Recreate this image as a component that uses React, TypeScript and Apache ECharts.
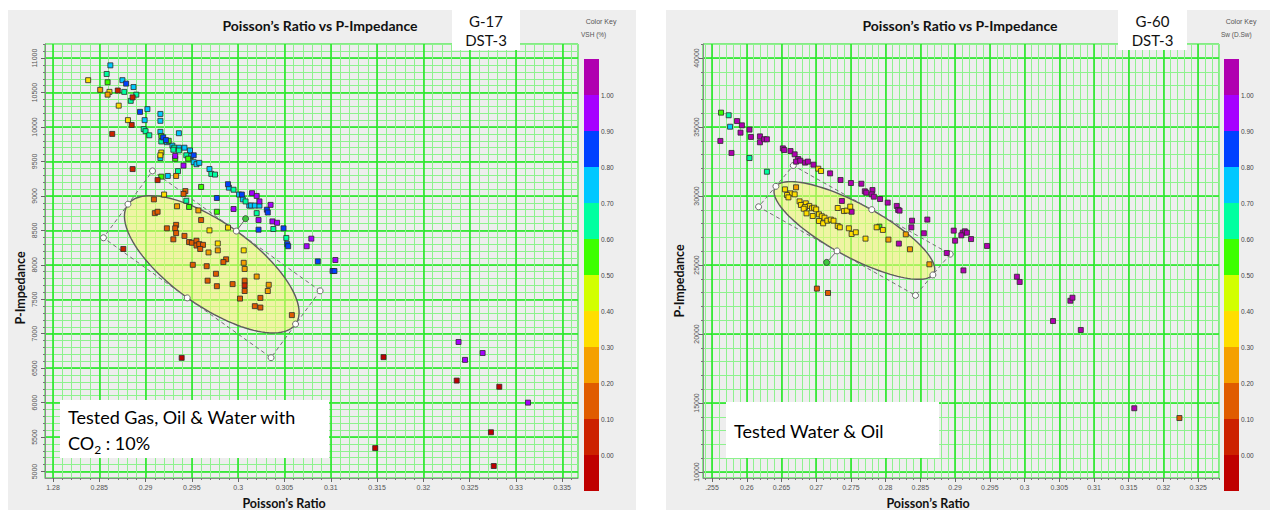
import React, { useEffect, useRef } from 'react';
import * as echarts from 'echarts';

// ---------------- Color key ----------------
const KEY_COLORS = ['#b000b0', '#a600ff', '#0040ff', '#00c8ff', '#00ffa0', '#3cff00', '#d2ff00', '#ffde00', '#f5a000', '#e05c00', '#cc2200', '#bf0000'];
const KEY_LABELS = ['1.00', '0.90', '0.80', '0.70', '0.60', '0.50', '0.40', '0.30', '0.20', '0.10', '0.00'];
const KEY_BOUNDS = [1.0, 0.9, 0.8, 0.7, 0.6, 0.5, 0.4, 0.3, 0.2, 0.1, 0.0];

// colour-class values read from the key (bin middles)
const V_MAGENTA = 1.05, V_VIOLET = 0.95, V_BLUE = 0.85, V_SKY = 0.75, V_AQUA = 0.65, V_GREEN = 0.55;
const V_YELLOW = 0.35, V_ORANGE = 0.25, V_DORANGE = 0.15, V_RED = 0.05, V_DRED = -0.05;

// ---------------- Left chart: G-17 DST-3 (VSH) ----------------
const LEFT_X_RANGE = [0.27914, 0.3367];
const LEFT_Y_RANGE = [4906, 11205];
const LEFT_X_TICKS = [0.28, 0.285, 0.29, 0.295, 0.3, 0.305, 0.31, 0.315, 0.32, 0.325, 0.33, 0.335];
const LEFT_X_LABELS = ['1.28', '0.285', '0.29', '0.295', '0.3', '0.305', '0.31', '0.315', '0.32', '0.325', '0.33', '0.335'];
const LEFT_Y_TICKS = [5000, 5500, 6000, 6500, 7000, 7500, 8000, 8500, 9000, 9500, 10000, 10500, 11000];
const LEFT_Y_LABELS = ['5000', '5500', '6000', '6500', '7000', '7500', '8000', '8500', '9000', '9500', '10000', '10500', '11000'];

const LEFT_SKY = [[0.2862, 10895], [0.2875, 10680], [0.2887, 10580], [0.2902, 10260], [0.2916, 10190], [0.2899, 10100], [0.2916, 10090], [0.2916, 9930], [0.2936, 9910], [0.2923, 9780], [0.2929, 9730], [0.2936, 9700], [0.2942, 9700], [0.2948, 9660], [0.2949, 9580], [0.2916, 9550], [0.2952, 9490], [0.2955, 9460], [0.2958, 9480], [0.2969, 9390], [0.2924, 9290], [0.2990, 9120], [0.3001, 9020], [0.3005, 8950], [0.3012, 8860], [0.3014, 8860], [0.3018, 8860], [0.3023, 8860]];
const LEFT_AQUA = [[0.2858, 10770], [0.2877, 10510], [0.2890, 10470], [0.2884, 10380], [0.2898, 9970], [0.2900, 9940], [0.2904, 9880], [0.2917, 9790], [0.2931, 9700], [0.2930, 9670], [0.2936, 9660], [0.2944, 9590], [0.2935, 9360], [0.2971, 9320], [0.2975, 9310], [0.2995, 9090], [0.3008, 8920], [0.2944, 8930], [0.3020, 8750], [0.3038, 8520], [0.3052, 8390]];
const LEFT_GREEN = [[0.2859, 10650], [0.2917, 9870], [0.2925, 9800], [0.2932, 9540], [0.2946, 9540], [0.2917, 9280], [0.2960, 9130], [0.2947, 8840], [0.2977, 8770]];
const LEFT_BLUE = [[0.2879, 10630], [0.2894, 10220], [0.2919, 9850], [0.2922, 9810], [0.2952, 9590], [0.2989, 9170], [0.2977, 8970], [0.3004, 9020], [0.3031, 8800], [0.3032, 8760], [0.3049, 8530], [0.3022, 8510], [0.3053, 8300], [0.3054, 8270], [0.3086, 8050], [0.3102, 7910], [0.3104, 7910]];
const LEFT_VIOLET = [[0.2932, 9580], [0.2941, 9440], [0.3015, 9040], [0.3020, 9000], [0.3023, 8920], [0.3035, 8870], [0.2995, 8810], [0.3022, 8650], [0.3037, 8630], [0.3042, 8610], [0.3079, 8380], [0.3074, 8270], [0.3105, 8070], [0.3238, 6880], [0.3264, 6720], [0.3245, 6620], [0.3313, 6000]];
const LEFT_YELLOW = [[0.2838, 10680], [0.2861, 10510], [0.2871, 10310], [0.2881, 10100], [0.2917, 9630], [0.2916, 9590], [0.2920, 9020], [0.2969, 8500], [0.2989, 8540], [0.2978, 8310], [0.3006, 8210]];
const LEFT_ORANGE = [[0.2851, 10540], [0.2859, 10470], [0.2933, 9290], [0.2934, 8850], [0.2957, 8790], [0.2978, 8210], [0.2968, 8180], [0.3006, 8030], [0.3007, 7940], [0.3020, 7830], [0.3033, 7710], [0.3032, 7620]];
const LEFT_DORANGE = [[0.2943, 9070], [0.2941, 9030], [0.2909, 8950], [0.2910, 8750], [0.2913, 8770], [0.2960, 8650], [0.2923, 8530], [0.2933, 8580], [0.2932, 8530], [0.2933, 8460], [0.2942, 8420], [0.2930, 8370], [0.2947, 8330], [0.2950, 8320], [0.2955, 8350], [0.2955, 8280], [0.2958, 8300], [0.2962, 8290], [0.2959, 8230], [0.2987, 8080], [0.2984, 8040], [0.2951, 8000], [0.2966, 7980], [0.2976, 7870], [0.2967, 7770], [0.2994, 7720], [0.3007, 7770], [0.3007, 7620], [0.2977, 7690], [0.3002, 7510], [0.3024, 7520], [0.3018, 7400], [0.3024, 7380], [0.3058, 7270]];
const LEFT_RED = [[0.2870, 10530], [0.2886, 10430], [0.2885, 10030], [0.2864, 9900], [0.2886, 9390], [0.2913, 9230], [0.2876, 8230], [0.3007, 7700]];
const LEFT_DRED = [[0.2939, 6650], [0.3157, 6660], [0.3236, 6320], [0.3282, 6230], [0.3273, 5570], [0.3148, 5340], [0.3276, 5080]];

const LEFT_ELLIPSE_MAJOR = [[0.2881, 8880], [0.3062, 7140]];
const LEFT_ELLIPSE_MINOR = [[0.2998, 8490], [0.2945, 7520]];
const LEFT_ELLIPSE_HANDLE = [0.3008, 8670];

// ---------------- Right chart: G-60 DST-3 (Sw) ----------------
const RIGHT_X_RANGE = [0.2537, 0.3280];
const RIGHT_Y_RANGE = [9565, 41014];
const RIGHT_X_TICKS = [0.255, 0.26, 0.265, 0.27, 0.275, 0.28, 0.285, 0.29, 0.295, 0.3, 0.305, 0.31, 0.315, 0.32, 0.325];
const RIGHT_X_LABELS = ['.255', '0.26', '0.265', '0.27', '0.275', '0.28', '0.285', '0.29', '0.295', '0.3', '0.305', '0.31', '0.315', '0.32', '0.325'];
const RIGHT_Y_TICKS = [10000, 15000, 20000, 25000, 30000, 35000, 40000];
const RIGHT_Y_LABELS = ['10000', '15000', '20000', '25000', '30000', '35000', '40000'];

const RIGHT_MAGENTA = [[0.2586, 35430], [0.2593, 35120], [0.2562, 33990], [0.2591, 34590], [0.2604, 34810], [0.2606, 34280], [0.2578, 33120], [0.2619, 34320], [0.2619, 33890], [0.2625, 34110], [0.2629, 34110], [0.2652, 33450], [0.2654, 33330], [0.2663, 33260], [0.2669, 33020], [0.2674, 32680], [0.2671, 32490], [0.2677, 32560], [0.2684, 32420], [0.2688, 32490], [0.2696, 32270], [0.2720, 31640], [0.2735, 31160], [0.2750, 30940], [0.2765, 30890], [0.2770, 30340], [0.2772, 30240], [0.2781, 30430], [0.2780, 30120], [0.2783, 29950], [0.2792, 29780], [0.2803, 29520], [0.2816, 29280], [0.2818, 28990], [0.2820, 28940], [0.2838, 28210], [0.2860, 28290], [0.2837, 27730], [0.2855, 27300], [0.2888, 25870], [0.2737, 29640], [0.2751, 28860], [0.2819, 26550], [0.2898, 27490], [0.2911, 27340], [0.2914, 27440], [0.2917, 27340], [0.2909, 27150], [0.2900, 26760], [0.2923, 26880], [0.2912, 24610], [0.2946, 26380], [0.2989, 24150], [0.2993, 23770], [0.3066, 22410], [0.3069, 22630], [0.3041, 20940], [0.3081, 20290], [0.3158, 14620]];
const RIGHT_GREEN = [[0.2563, 36040], [0.2791, 27780]];
const RIGHT_AQUA = [[0.2574, 35850], [0.2604, 32750], [0.2629, 31760]];
const RIGHT_SKY = [[0.2576, 35020]];
const RIGHT_YELLOW = [[0.2703, 31980], [0.2707, 31810], [0.2655, 30480], [0.2663, 30190], [0.2669, 30120], [0.2658, 30070], [0.2660, 29900], [0.2676, 29610], [0.2678, 29350], [0.2685, 29470], [0.2690, 29280], [0.2684, 29200], [0.2682, 29080], [0.2694, 29110], [0.2697, 29150], [0.2700, 29030], [0.2686, 28740], [0.2695, 28550], [0.2704, 28670], [0.2708, 28530], [0.2712, 28430], [0.2704, 28190], [0.2710, 28020], [0.2716, 28210], [0.2721, 28290], [0.2725, 28210], [0.2731, 27830], [0.2734, 27730], [0.2731, 29130], [0.2740, 28910], [0.2744, 28940], [0.2749, 29230], [0.2747, 27660], [0.2751, 27250], [0.2757, 27370], [0.2771, 26910], [0.2787, 27730], [0.2796, 27540]];
const RIGHT_ORANGE = [[0.2671, 30630], [0.2804, 26840], [0.2829, 27220], [0.2835, 26140], [0.2863, 25050]];
const RIGHT_DORANGE = [[0.2701, 23290], [0.2717, 22970], [0.3223, 13910]];

const RIGHT_ELLIPSE_MAJOR = [[0.2642, 30700], [0.2868, 24280]];
const RIGHT_ELLIPSE_MINOR = [[0.2780, 29010], [0.2730, 26020]];
const RIGHT_ELLIPSE_HANDLE = [0.2715, 25190];

// ---------------- styling ----------------
const MINOR_GREEN = '#8ef28e';
const MAJOR_GREEN = '#1ee61e';
const PANEL_BG = '#eeeeee';
const FONT = 'Lato';

function steps(from: number, to: number, step: number, dec: number) {
  const out: number[] = [];
  const n = Math.round((to - from) / step);
  for (let i = 0; i <= n; i++) out.push(+(from + i * step).toFixed(dec));
  return out;
}

const tag = (pts: number[][], v: number) => pts.map((p) => [p[0], p[1], v]);

const LEFT_DATA = [
  ...tag(LEFT_SKY, V_SKY), ...tag(LEFT_AQUA, V_AQUA), ...tag(LEFT_GREEN, V_GREEN), ...tag(LEFT_BLUE, V_BLUE),
  ...tag(LEFT_VIOLET, V_VIOLET), ...tag(LEFT_YELLOW, V_YELLOW), ...tag(LEFT_ORANGE, V_ORANGE),
  ...tag(LEFT_DORANGE, V_DORANGE), ...tag(LEFT_RED, V_RED), ...tag(LEFT_DRED, V_DRED),
];
const RIGHT_DATA = [
  ...tag(RIGHT_MAGENTA, V_MAGENTA), ...tag(RIGHT_GREEN, V_GREEN), ...tag(RIGHT_AQUA, V_AQUA), ...tag(RIGHT_SKY, V_SKY),
  ...tag(RIGHT_YELLOW, V_YELLOW), ...tag(RIGHT_ORANGE, V_ORANGE), ...tag(RIGHT_DORANGE, V_DORANGE),
];

function makeAxes(dim: 'x' | 'y', gridIndex: number, range: number[], minor: number[], major: number[], labels: string[], margin: number) {
  const base = { type: 'value', gridIndex, min: range[0], max: range[1], position: dim === 'x' ? 'bottom' : 'left' };
  const fmt = (v: number) => {
    let best = 0;
    for (let i = 1; i < major.length; i++) if (Math.abs(major[i] - v) < Math.abs(major[best] - v)) best = i;
    return labels[best];
  };
  return [
    {
      ...base,
      axisLine: { show: true, onZero: false, lineStyle: { color: '#8a8a8a', width: 1 } },
      axisTick: { show: true, customValues: minor, length: 2, lineStyle: { color: '#777', width: 1 } },
      axisLabel: { show: false },
      splitLine: { show: true, lineStyle: { color: MINOR_GREEN, width: 1 } },
    },
    {
      ...base,
      axisLine: { show: false, onZero: false },
      axisTick: { show: true, customValues: major, length: 4, lineStyle: { color: '#666', width: 1 } },
      axisLabel: {
        show: true, customValues: major, formatter: fmt, rotate: dim === 'y' ? 90 : 0, margin,
        fontSize: 7, color: '#555', fontFamily: 'Liberation Sans',
      },
      splitLine: { show: true, lineStyle: { color: MAJOR_GREEN, width: 1.5 } },
    },
  ];
}

function ellipseItem(params: any, api: any) {
  const pt = (i: number) => api.coord([api.value(i), api.value(i + 1)]);
  const M1 = pt(0), M2 = pt(2), m1 = pt(4), m2 = pt(6), H = pt(8);
  const C = [(M1[0] + M2[0] + m1[0] + m2[0]) / 4, (M1[1] + M2[1] + m1[1] + m2[1]) / 4];
  const A = [(M2[0] - M1[0]) / 2, (M2[1] - M1[1]) / 2];
  const B = [(m1[0] - m2[0]) / 2, (m1[1] - m2[1]) / 2];
  const ell: number[][] = [];
  for (let k = 0; k < 120; k++) {
    const t = (k / 120) * Math.PI * 2;
    ell.push([C[0] + A[0] * Math.cos(t) + B[0] * Math.sin(t), C[1] + A[1] * Math.cos(t) + B[1] * Math.sin(t)]);
  }
  const corner = (sa: number, sb: number) => [C[0] + sa * A[0] + sb * B[0], C[1] + sa * A[1] + sb * B[1]];
  const rect = [corner(1, 1), corner(1, -1), corner(-1, -1), corner(-1, 1)];
  const d = (p: number[], q: number[]) => Math.hypot(p[0] - q[0], p[1] - q[1]);
  const base = d(H, m1) < d(H, m2) ? m1 : m2;
  const knobs = [...rect, M1, M2, m1, m2];
  return {
    type: 'group',
    children: [
      { type: 'polygon', shape: { points: ell }, style: { fill: 'rgba(240,248,110,0.58)', stroke: '#5c5c5c', lineWidth: 1.4 } },
      { type: 'polygon', shape: { points: rect }, style: { fill: 'none', stroke: '#707070', lineWidth: 1, lineDash: [4, 3] } },
      { type: 'line', shape: { x1: base[0], y1: base[1], x2: H[0], y2: H[1] }, style: { stroke: '#666', lineWidth: 1 } },
      ...knobs.map((p) => ({ type: 'circle', shape: { cx: p[0], cy: p[1], r: 3 }, style: { fill: '#ffffff', stroke: '#6a6a6a', lineWidth: 1 } })),
      { type: 'circle', shape: { cx: H[0], cy: H[1], r: 3 }, style: { fill: '#3cc83c', stroke: '#333', lineWidth: 0.8 } },
    ],
  };
}

function measure(text: string, font: string) {
  const ctx = document.createElement('canvas').getContext('2d');
  if (!ctx) return text.length * 8;
  ctx.font = font;
  return ctx.measureText(text).width;
}

function txt(x: number, y: number, text: string, size: number, opts: any = {}) {
  return {
    type: 'text', x, y, z: 100, rotation: opts.rotation || 0, silent: true,
    style: {
      text, fontSize: size, fontFamily: opts.family || FONT, fontWeight: opts.weight || 'normal',
      fill: opts.color || '#111', align: opts.align || 'center', verticalAlign: 'middle',
    },
  };
}

function panelGraphics(o: any) {
  const els: any[] = [];
  els.push({ type: 'rect', z: -100, silent: true, shape: { x: o.panel[0], y: o.panel[1], width: o.panel[2], height: o.panel[3] }, style: { fill: PANEL_BG } });
  els.push(txt(o.titleX, 25, 'Poisson\u2019s Ratio vs P-Impedance', 14, { weight: 'bold' }));
  els.push({ type: 'rect', z: 100, silent: true, shape: { x: o.box[0], y: o.box[1], width: o.box[2], height: o.box[3] }, style: { fill: '#ffffff' } });
  els.push(txt(o.box[0] + o.box[2] / 2, 21, o.well, 15));
  els.push(txt(o.box[0] + o.box[2] / 2, 40, 'DST-3', 15));
  els.push(txt(o.keyX + 17, 21, 'Color Key', 7, { family: 'Liberation Sans', color: '#555' }));
  els.push(txt(o.keyX - 3, 34, o.keyName, 6.5, { family: 'Liberation Sans', color: '#555', align: 'left' }));
  KEY_COLORS.forEach((c, i) => {
    els.push({ type: 'rect', z: 100, silent: true, shape: { x: o.keyX, y: 59 + i * 36, width: 15, height: 36 }, style: { fill: c } });
  });
  KEY_LABELS.forEach((l, i) => {
    els.push(txt(o.keyX + 17, 59 + (i + 1) * 36, l, 6.5, { family: 'Liberation Sans', color: '#444', align: 'left' }));
  });
  els.push({ type: 'rect', z: 100, silent: true, shape: { x: o.note[0], y: o.note[1], width: o.note[2], height: o.note[3] }, style: { fill: '#ffffff' } });
  o.noteLines.forEach((ln: any) => {
    let x = o.note[0] + 8;
    ln.parts.forEach((p: any) => {
      els.push(txt(x, ln.y + (p.dy || 0), p.t, p.s, { align: 'left', color: '#000' }));
      x += measure(p.t, `${p.s}px ${FONT}`);
    });
  });
  els.push(txt(o.xNameX, 503, 'Poisson\u2019s Ratio', 12.5, { weight: 'bold' }));
  els.push(txt(o.yNameX, o.yNameY, 'P-Impedance', 12.5, { weight: 'bold', rotation: Math.PI / 2 }));
  return els;
}

function buildOption() {
  const grids = [
    { left: 45, top: 44, width: 533, height: 434 },
    { left: 703, top: 44, width: 516, height: 434 },
  ].map((g) => ({ ...g, show: true, borderColor: MAJOR_GREEN, borderWidth: 1, backgroundColor: 'transparent', containLabel: false, outerBoundsMode: 'none' }));

  const xAxis = [
    ...makeAxes('x', 0, LEFT_X_RANGE, steps(0.28, 0.336, 0.001, 3), LEFT_X_TICKS, LEFT_X_LABELS, 6),
    ...makeAxes('x', 1, RIGHT_X_RANGE, steps(0.254, 0.328, 0.001, 3), RIGHT_X_TICKS, RIGHT_X_LABELS, 6),
  ];
  const yAxis = [
    ...makeAxes('y', 0, LEFT_Y_RANGE, steps(5000, 11200, 100, 0), LEFT_Y_TICKS, LEFT_Y_LABELS, 7),
    ...makeAxes('y', 1, RIGHT_Y_RANGE, steps(10000, 41000, 1000, 0), RIGHT_Y_TICKS, RIGHT_Y_LABELS, 3),
  ];

  const scatterStyle = {
    type: 'scatter', symbol: 'rect', symbolSize: 5, z: 5, silent: true,
    itemStyle: { borderColor: '#2a2a2a', borderWidth: 0.8, opacity: 1 },
  };
  const ellipseSeries = (xi: number, major: number[][], minor: number[][], handle: number[]) => ({
    type: 'custom', coordinateSystem: 'cartesian2d', xAxisIndex: xi, yAxisIndex: xi, z: 3, silent: true, clip: false,
    renderItem: ellipseItem,
    encode: { x: [0, 2, 4, 6, 8], y: [1, 3, 5, 7, 9] },
    data: [[...major[0], ...major[1], ...minor[0], ...minor[1], ...handle]],
  });

  const pieces = KEY_COLORS.map((c, i) => {
    if (i === 0) return { gt: KEY_BOUNDS[0], color: c };
    if (i === KEY_COLORS.length - 1) return { lt: KEY_BOUNDS[KEY_BOUNDS.length - 1], color: c };
    return { gte: KEY_BOUNDS[i], lte: KEY_BOUNDS[i - 1], color: c };
  });

  const graphics = [
    ...panelGraphics({
      panel: [8, 10, 628, 500], titleX: 320, box: [452, 9, 68, 41], well: 'G-17', keyX: 584, keyName: 'VSH (%)',
      note: [60, 400, 269, 58],
      noteLines: [
        { y: 417, parts: [{ t: 'Tested Gas, Oil & Water with', s: 18 }] },
        { y: 443, parts: [{ t: 'CO', s: 18 }, { t: '2', s: 12, dy: 6 }, { t: ' : 10%', s: 18 }] },
      ],
      xNameX: 284, yNameX: 20, yNameY: 288,
    }),
    ...panelGraphics({
      panel: [666, 10, 604, 500], titleX: 960, box: [1118, 9, 69, 41], well: 'G-60', keyX: 1224, keyName: 'Sw (D.Sw)',
      note: [726, 402, 213, 56],
      noteLines: [{ y: 431, parts: [{ t: 'Tested Water & Oil', s: 18 }] }],
      xNameX: 928, yNameX: 679, yNameY: 281,
    }),
  ];

  return {
    animation: false,
    backgroundColor: '#ffffff',
    textStyle: { fontFamily: 'Liberation Sans' },
    grid: grids,
    xAxis,
    yAxis,
    visualMap: { type: 'piecewise', show: false, dimension: 2, seriesIndex: [1, 3], pieces },
    series: [
      ellipseSeries(0, LEFT_ELLIPSE_MAJOR, LEFT_ELLIPSE_MINOR, LEFT_ELLIPSE_HANDLE),
      { ...scatterStyle, xAxisIndex: 0, yAxisIndex: 0, data: LEFT_DATA },
      ellipseSeries(2, RIGHT_ELLIPSE_MAJOR, RIGHT_ELLIPSE_MINOR, RIGHT_ELLIPSE_HANDLE),
      { ...scatterStyle, xAxisIndex: 2, yAxisIndex: 2, data: RIGHT_DATA },
    ],
    graphic: { elements: graphics },
  };
}

export default function App() {
  const ref = useRef<HTMLDivElement>(null);
  useEffect(() => {
    if (!ref.current) return;
    const chart = echarts.init(ref.current, null, { renderer: 'svg' });
    chart.setOption(buildOption() as any);
    return () => chart.dispose();
  }, []);
  return <div ref={ref} style={{ position: 'absolute', left: 0, top: 0, width: 1274, height: 510, background: '#ffffff' }} />;
}
